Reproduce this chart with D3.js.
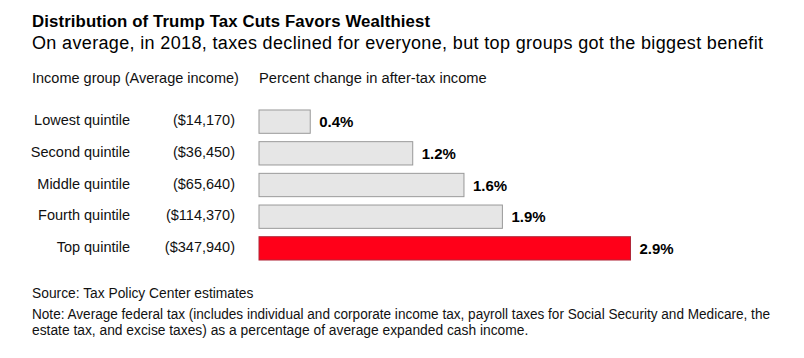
<!DOCTYPE html>
<html><head><meta charset="utf-8">
<script src="https://cdn.jsdelivr.net/npm/d3@7"></script>
<style>body{margin:0;background:#fff}svg{display:block}text{font-family:"Liberation Sans",Arial,sans-serif}</style>
</head><body><svg id="c" width="804" height="358"></svg>
<script>
const groups = ["Lowest quintile","Second quintile","Middle quintile","Fourth quintile","Top quintile"];
const incomes = ["($14,170)","($36,450)","($65,640)","($114,370)","($347,940)"];
const values = [0.4, 1.2, 1.6, 1.9, 2.9];
const valueLabels = ["0.4%","1.2%","1.6%","1.9%","2.9%"];

const svg = d3.select("#c");
const x = d3.scaleLinear().domain([0, 2.9]).range([259, 630.5]);
const y = d3.scaleBand().domain(groups).range([105.8, 264.2]).paddingInner(0.264).paddingOuter(0.132);

svg.append("text").attr("x",32).attr("y",27).attr("font-size",16.8).attr("font-weight","bold").attr("fill","#000")
  .attr("textLength",398).attr("lengthAdjust","spacing")
  .text("Distribution of Trump Tax Cuts Favors Wealthiest");
svg.append("text").attr("x",32).attr("y",48.5).attr("font-size",18).attr("fill","#000")
  .attr("textLength",731).attr("lengthAdjust","spacing")
  .text("On average, in 2018, taxes declined for everyone, but top groups got the biggest benefit");
svg.append("text").attr("x",32).attr("y",83).attr("font-size",14.5).attr("fill","#111").text("Income group (Average income)");
svg.append("text").attr("x",259).attr("y",83).attr("font-size",14.7).attr("fill","#111").text("Percent change in after-tax income");

const rows = svg.append("g").selectAll("g").data(groups).join("g");
rows.append("text").attr("x",130).attr("y",d=>y(d)+y.bandwidth()/2+3.5).attr("text-anchor","end").attr("font-size",14.5).attr("fill","#111").text(d=>d);
rows.append("text").attr("x",235).attr("y",d=>y(d)+y.bandwidth()/2+3.5).attr("text-anchor","end").attr("font-size",14.5).attr("fill","#111").text((d,i)=>incomes[i]);
rows.append("rect").attr("x",x(0)).attr("y",d=>y(d)).attr("width",(d,i)=>x(values[i])-x(0)).attr("height",y.bandwidth())
  .attr("fill",(d,i)=>i===4?"#ff0019":"#e6e6e6").attr("stroke",(d,i)=>i===4?"#b0283a":"#999").attr("stroke-width",1);
rows.append("text").attr("x",(d,i)=>x(values[i])+9).attr("y",d=>y(d)+y.bandwidth()/2+5.5).attr("font-size",15).attr("font-weight","bold").attr("fill","#000").text((d,i)=>valueLabels[i]);

const foot = "'Liberation Sans Narrow','Arial Narrow','Liberation Sans',sans-serif";
svg.append("text").attr("x",32).attr("y",298).attr("font-size",13.8).attr("fill","#111").style("font-family",foot).text("Source: Tax Policy Center estimates");
svg.append("text").attr("x",32).attr("y",319).attr("font-size",13.8).attr("fill","#111").style("font-family",foot)
  .attr("textLength",738).attr("lengthAdjust","spacingAndGlyphs")
  .text("Note: Average federal tax (includes individual and corporate income tax, payroll taxes for Social Security and Medicare, the");
svg.append("text").attr("x",32).attr("y",335).attr("font-size",13.8).attr("fill","#111").style("font-family",foot)
  .text("estate tax, and excise taxes) as a percentage of average expanded cash income.");
</script></body></html>
